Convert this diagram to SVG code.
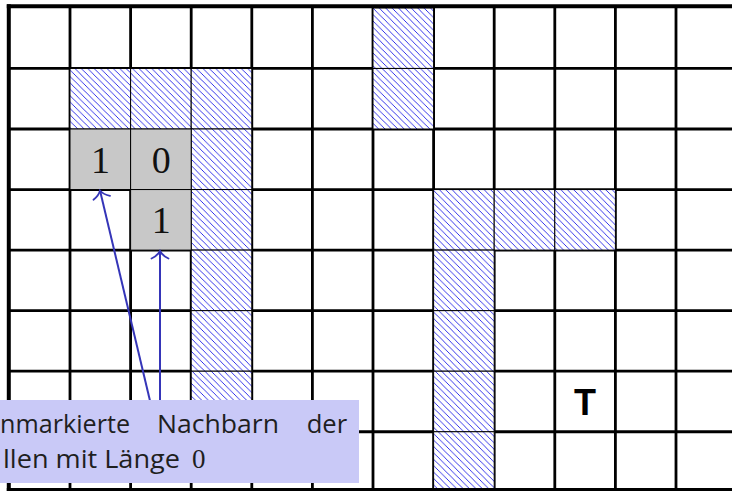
<svg xmlns="http://www.w3.org/2000/svg" width="732" height="491" viewBox="0 0 732 491">
<style>
.grid line{stroke:#000;stroke-width:2.8}
.frame line{stroke:#000}
.h{fill:url(#hatch);stroke:#000;stroke-width:1}
.g{fill:#c8c8c8;stroke:#000;stroke-width:1}
.num{font-family:"Liberation Serif",serif;font-size:38px;fill:#111;text-anchor:middle}
.conn{stroke:#3535b8;stroke-width:2;fill:none;marker-end:url(#tip)}
.lbl{font-family:"Open Sans","Noto Sans",sans-serif;font-size:26px;fill:#1f1f1f}
</style>
<defs>
<pattern id="hatch" patternUnits="userSpaceOnUse" width="6.4" height="6.4">
<rect width="6.4" height="6.4" fill="#fff"/>
<path d="M-1,-1 L7.4,7.4 M-1,5.4 L1,7.4 M5.4,-1 L7.4,1" stroke="#2020e8" stroke-width="0.9"/>
</pattern>
<marker id="tip" markerUnits="userSpaceOnUse" orient="auto" viewBox="-10 -10 12 20" refX="0" refY="0" markerWidth="12" markerHeight="20">
<path d="M-7.5,-8.5 C-5,-3 -2,-1 0,0 C-2,1 -5,3 -7.5,8.5" stroke="#3535b8" stroke-width="1.8" fill="none" stroke-linecap="round"/>
</marker>
</defs>
<rect width="732" height="491" fill="#fff"/>
<g id="grid" class="grid">
<line x1="70" y1="7" x2="70" y2="490"/>
<line x1="130.6" y1="7" x2="130.6" y2="490"/>
<line x1="191.2" y1="7" x2="191.2" y2="490"/>
<line x1="251.8" y1="7" x2="251.8" y2="490"/>
<line x1="312.4" y1="7" x2="312.4" y2="490"/>
<line x1="373" y1="7" x2="373" y2="490"/>
<line x1="433.6" y1="7" x2="433.6" y2="490"/>
<line x1="494.2" y1="7" x2="494.2" y2="490"/>
<line x1="554.8" y1="7" x2="554.8" y2="490"/>
<line x1="615.4" y1="7" x2="615.4" y2="490"/>
<line x1="676" y1="7" x2="676" y2="490"/>
<line x1="9" y1="68.45" x2="732" y2="68.45"/>
<line x1="9" y1="129" x2="732" y2="129"/>
<line x1="9" y1="189.55" x2="732" y2="189.55"/>
<line x1="9" y1="250.1" x2="732" y2="250.1"/>
<line x1="9" y1="310.65" x2="732" y2="310.65"/>
<line x1="9" y1="371.2" x2="732" y2="371.2"/>
<line x1="9" y1="431.75" x2="732" y2="431.75"/>
</g>
<g id="obstacles">
<rect class="h" x="70" y="68.45" width="60.6" height="60.55"/>
<rect class="h" x="130.6" y="68.45" width="60.6" height="60.55"/>
<rect class="h" x="191.2" y="68.45" width="60.6" height="60.55"/>
<rect class="h" x="191.2" y="129" width="60.6" height="60.55"/>
<rect class="h" x="191.2" y="189.55" width="60.6" height="60.55"/>
<rect class="h" x="191.2" y="250.1" width="60.6" height="60.55"/>
<rect class="h" x="191.2" y="310.65" width="60.6" height="60.55"/>
<rect class="h" x="191.2" y="371.2" width="60.6" height="60.55"/>
<rect class="h" x="373" y="7.9" width="60.6" height="60.55"/>
<rect class="h" x="373" y="68.45" width="60.6" height="60.55"/>
<rect class="h" x="433.6" y="189.55" width="60.6" height="60.55"/>
<rect class="h" x="494.2" y="189.55" width="60.6" height="60.55"/>
<rect class="h" x="554.8" y="189.55" width="60.6" height="60.55"/>
<rect class="h" x="433.6" y="250.1" width="60.6" height="60.55"/>
<rect class="h" x="433.6" y="310.65" width="60.6" height="60.55"/>
<rect class="h" x="433.6" y="371.2" width="60.6" height="60.55"/>
<rect class="h" x="433.6" y="431.75" width="60.6" height="60.55"/>
</g>
<g id="cell-a">
<rect class="g" x="70" y="129" width="60.6" height="60.55"/>
<text class="num" x="100.5" y="172.7">1</text>
</g>
<g id="cell-b">
<rect class="g" x="130.6" y="129" width="60.6" height="60.55"/>
<text class="num" x="161.3" y="172.7">0</text>
</g>
<g id="cell-c">
<rect class="g" x="130.6" y="189.55" width="60.6" height="60.55"/>
<text class="num" x="161.3" y="232.7">1</text>
</g>
<g id="frame" class="frame">
<line x1="6.8" y1="6.3" x2="732" y2="6.3" stroke-width="4"/>
<line x1="8.8" y1="4.3" x2="8.8" y2="491" stroke-width="4"/>
<line x1="6.8" y1="489.7" x2="732" y2="489.7" stroke-width="3.2"/>
</g>
<g id="target">
<text x="585" y="414.5" font-family="Liberation Sans, Arial, sans-serif" font-weight="bold" font-size="36" text-anchor="middle" fill="#000">T</text>
</g>
<g id="connectors">
<line class="conn" x1="151" y1="405" x2="100" y2="190.5"/>
<line class="conn" x1="160" y1="405" x2="160" y2="251"/>
</g>
<g id="label">
<rect x="0" y="400" width="359" height="83" fill="#c9c9f7"/>
<text class="lbl" y="432.7"><tspan x="0" textLength="130" lengthAdjust="spacingAndGlyphs">nmarkierte</tspan><tspan x="157" textLength="122" lengthAdjust="spacingAndGlyphs">Nachbarn</tspan><tspan x="306.7" textLength="40.5" lengthAdjust="spacingAndGlyphs">der</tspan></text>
<text class="lbl" y="468"><tspan x="3" textLength="177" lengthAdjust="spacingAndGlyphs">llen mit Länge</tspan><tspan x="192" font-family="Liberation Serif, serif" font-size="27">0</tspan></text>
</g>
</svg>
